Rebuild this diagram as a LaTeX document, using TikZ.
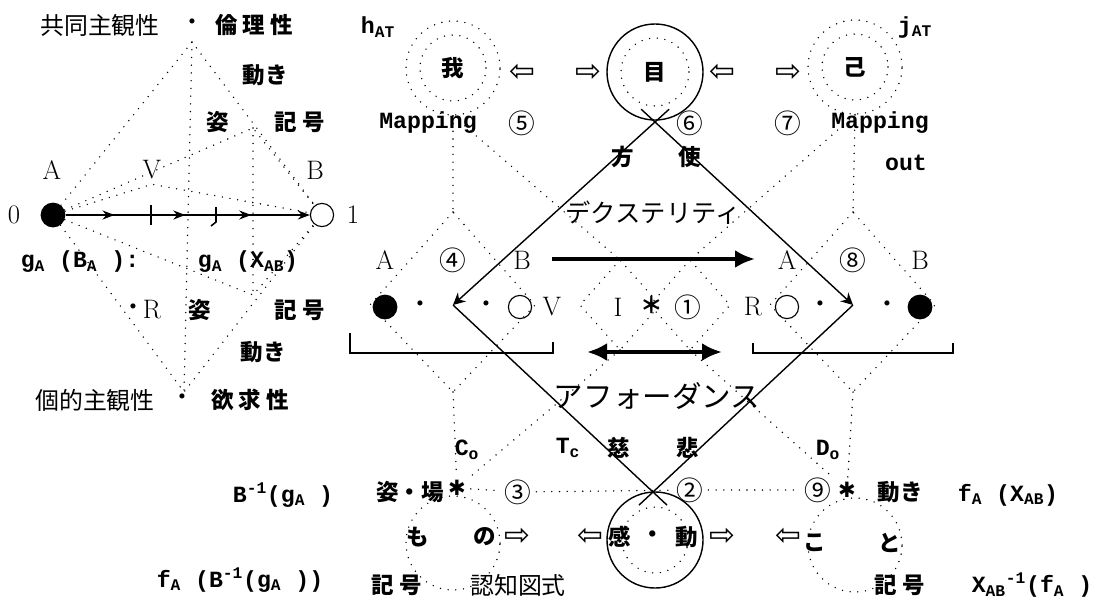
\documentclass[tikz,border=0pt]{standalone}
\usepackage{fontspec}
\setmonofont{Liberation Mono}
\newfontfamily\jpfont{Noto Sans CJK JP}
\newfontfamily\symfont{DejaVu Sans}
\usetikzlibrary{arrows.meta,calc,decorations.markings}

\begin{document}
\begin{tikzpicture}[
      x=0.025cm, y=-0.025cm,
      >=Stealth,
      jp/.style={font=\jpfont\fontsize{17}{20}\selectfont},
      jpb/.style={font=\jpfont\bfseries\fontsize{16}{20}\selectfont},
      lat/.style={font=\fontsize{19}{22}\selectfont},
      mono/.style={font=\ttfamily\bfseries\fontsize{16.5}{19}\selectfont},
      cnum/.style={font=\jpfont\fontsize{19}{22}\selectfont},
      warr/.style={font=\symfont\fontsize{22}{24}\selectfont},
      dotline/.style={line width=1.1pt, line cap=round, dash pattern=on 0pt off 5.5pt},
      edge/.style={line width=1pt},
      heavyarrow/.style={line width=3pt,-{Latex[length=5mm,width=4.5mm]}},
      ring/.style={circle, dotline, draw, minimum size=2.35cm, inner sep=0pt},
      solidring/.style={circle, draw, line width=1pt, minimum size=2.4cm, inner sep=0pt},
      blob/.style={circle, fill, inner sep=0pt, minimum size=0.62cm},
      hole/.style={circle, draw, line width=0.8pt, inner sep=0pt, minimum size=0.58cm},
      splat/.style={font=\symfont\fontsize{15}{18}\selectfont}
    ]

    \path[use as bounding box] (0,0) rectangle (1110,601);

    % Left figure: top and bottom labels
    \node[jp] (kyodo) at (100,25) {共同主観性};
    \node[jp] (kdot1) at (192,25) {・};
    \node[jpb] (rinri) at (254,25) {倫 理 性};
    \node[jpb] (ugoki1) at (265,75) {動き};
    \node[jpb] (sugata1) at (218,122) {姿};
    \node[jpb] (kigo1) at (300,122) {記 号};
    \node[lat] (la) at (52,170) {A};
    \node[lat] (lv) at (152,170) {V};
    \node[lat] (lb) at (315,170) {B};
    \node[mono] (gba) at (80,262) {g\textsubscript{A} (B\textsubscript{A} ):};
    \node[mono] (gxab) at (248,262) {g\textsubscript{A} (X\textsubscript{AB})};
    \node[jp] (rdot) at (133,310) {・};
    \node[lat] (lr) at (152,310) {R};
    \node[jpb] (sugata2) at (200,310) {姿};
    \node[jpb] (kigo2) at (300,310) {記 号};
    \node[jpb] (ugoki2) at (263,352) {動き};
    \node[jp] (koteki) at (95,400) {個的主観性};
    \node[jp] (kdot2) at (182,400) {・};
    \node[jpb] (yokkyu) at (250,400) {欲 求 性};

    % Left figure: the axis from 0 to 1
    \node[lat] (zero) at (14,215) {0};
    \node[blob] (p0) at (53,215) {};
    \node[hole] (p1) at (322,215) {};
    \node[lat] (one) at (353,215) {1};
    \draw[line width=1.3pt, -{Stealth[length=3mm]}, postaction={decorate},
      decoration={markings,
        mark=at position 0.2 with {\arrow{Stealth[length=3mm]}},
        mark=at position 0.49 with {\arrow{Stealth[length=3mm]}},
        mark=at position 0.76 with {\arrow{Stealth[length=3mm]}}}]
      (p0) -- (p1);
    \draw[line width=1.1pt] (151,205) -- (151,225);
    \draw[line width=1.1pt] (216,207) -- (216,222) -- (211,226);

    % Left figure: dotted lattice
    \coordinate (lt) at (192,42);
    \coordinate (lbot) at (184,392);
    \coordinate (mt) at (253,128);
    \coordinate (mb) at (253,295);
    \draw[dotline] (p0) -- (lt) -- (p1);
    \draw[dotline] (p0) -- (lbot) -- (p1);
    \draw[dotline] (p0) -- (mt) -- (p1);
    \draw[dotline] (p0) -- (mb) -- (p1);
    \draw[dotline] (p0) -- (lv.south) -- (p1);
    \draw[dotline] (lt) -- (lbot);
    \draw[dotline] (mt) -- (mb);

    % Top circles
    \node[mono] (hat) at (378,27) {h\textsubscript{AT}};
    \node[mono] (jat) at (915,27) {j\textsubscript{AT}};
    \node[ring, jpb] (ga) at (453,68) {我};
    \draw[dotline] (ga.center) circle (33);
    \node[warr] (w1) at (522,73) {⇦};
    \node[warr] (w2) at (588,73) {⇨};
    \node[solidring, jpb] (me) at (655,72) {目};
    \draw[dotline] (me.center) circle (34);
    \node[warr] (w3) at (722,73) {⇦};
    \node[warr] (w4) at (788,73) {⇨};
    \node[ring, jpb] (ko) at (855,67) {己};
    \draw[dotline] (ko.center) circle (33);

    \node[mono] (map1) at (428,123) {Mapping};
    \node[cnum] (n5) at (522,123) {⑤};
    \node[cnum] (n6) at (690,123) {⑥};
    \node[cnum] (n7) at (788,123) {⑦};
    \node[mono] (map2) at (880,123) {Mapping};
    \node[mono] (out) at (906,163) {out};

    % Big diamond
    \coordinate (dt) at (655,122);
    \coordinate (dl) at (453,305);
    \coordinate (db) at (653,492);
    \coordinate (dr) at (853,305);
    \draw[edge, -{Stealth[length=3mm,width=3mm]}] ($(dl)!1.07!(dt)$) -- (dl);
    \draw[edge, -{Stealth[length=3mm,width=3mm]}] ($(dr)!1.07!(dt)$) -- (dr);
    \draw[edge] (dl) -- ($(dl)!1.07!(db)$);
    \draw[edge] (dr) -- ($(dr)!1.07!(db)$);

    \node[jpb] (hou) at (623,157) {方};
    \node[jpb] (ben) at (690,157) {使};
    \node[jp, font=\jpfont\fontsize{18}{20}\selectfont] (dex) at (653,213) {デクステリティ};
    \node[jp, font=\jpfont\fontsize{21}{24}\selectfont] (aff) at (657,396) {アフォーダンス};
    \node[mono] (tc) at (568,448) {T\textsubscript{c}};
    \node[jpb] (ji) at (619,448) {慈};
    \node[jpb] (hi) at (688,448) {悲};
    \node[mono] (co) at (467,450) {C\textsubscript{o}};
    \node[mono] (do) at (828,450) {D\textsubscript{o}};

    % Sub-blocks
    \node[lat] (sa) at (385,260) {A};
    \node[cnum] (n4) at (453,260) {④};
    \node[lat] (sb) at (522,260) {B};
    \node[blob] (sl1) at (385,307) {};
    \node[jp] (sd1) at (420,307) {・};
    \node[jp] (sd2) at (486,307) {・};
    \node[hole] (sl2) at (520,307) {};
    \node[lat] (sv) at (552,307) {V};
    \node[lat] (ci) at (618,307) {I};
    \node[jpb] (cstar) at (652,305) {＊};
    \node[cnum] (n1) at (688,307) {①};
    \node[lat] (ra) at (787,260) {A};
    \node[cnum] (n8) at (853,260) {⑧};
    \node[lat] (rb) at (920,260) {B};
    \node[lat] (rr) at (753,307) {R};
    \node[hole] (rl1) at (787,307) {};
    \node[jp] (rd1) at (820,307) {・};
    \node[jp] (rd2) at (887,307) {・};
    \node[blob] (rl2) at (920,307) {};

    \coordinate (ha1) at (552,259);
    \coordinate (ha2) at (755,259);
    \draw[heavyarrow] (ha1) -- (ha2);
    \coordinate (hb1) at (587,352);
    \coordinate (hb2) at (722,352);
    \draw[heavyarrow, {Latex[length=5mm,width=4.5mm]}-{Latex[length=5mm,width=4.5mm]}] (hb1) -- (hb2);

    \draw[line width=0.9pt] (350,333) -- (350,353) -- (553,353) -- (553,342);
    \draw[line width=0.9pt] (753,343) -- (753,353) -- (953,353) -- (953,343);

    % Dotted diamonds in the middle band
    \coordinate (ldt) at (453,212);
    \coordinate (ldl) at (370,305);
    \coordinate (ldb) at (453,392);
    \coordinate (ldr) at (535,305);
    \coordinate (rdt) at (853,212);
    \coordinate (rdl) at (770,305);
    \coordinate (rdb) at (853,392);
    \coordinate (rdr) at (935,305);
    \coordinate (ct1) at (620,260);
    \coordinate (cl1) at (580,305);
    \coordinate (cb1) at (620,350);
    \coordinate (cr1) at (660,305);
    \coordinate (ct2) at (690,260);
    \coordinate (cl2) at (650,305);
    \coordinate (cb2) at (690,350);
    \coordinate (cr2) at (730,305);
    \draw[dotline] (ldt) -- (ldl) -- (ldb) -- (ldr) -- cycle;
    \draw[dotline] (rdt) -- (rdl) -- (rdb) -- (rdr) -- cycle;
    \draw[dotline] (ct1) -- (cl1) -- (cb1) -- (cr1) -- cycle;
    \draw[dotline] (ct2) -- (cl2) -- (cb2) -- (cr2) -- cycle;

    % Lower row
    \node[mono] (binv) at (283,495) {B\textsuperscript{-1}(g\textsubscript{A} )};
    \node[jpb] (sba) at (410,492) {姿・場};
    \node[splat] (st1) at (457,488) {✱};
    \node[cnum] (n3) at (518,492) {③};
    \node[cnum] (n2) at (690,490) {②};
    \node[cnum] (n9) at (818,490) {⑨};
    \node[splat] (st2) at (847,490) {✱};
    \node[jpb] (ugoki3) at (900,492) {動き};
    \node[mono] (fx) at (1008,495) {f\textsubscript{A} (X\textsubscript{AB})};

    % Bottom circles
    \node[ring] (mono) at (453,543) {};
    \node[jpb] (mo) at (418,537) {も};
    \node[jpb] (no) at (485,537) {の};
    \node[warr] (w5) at (517,537) {⇨};
    \node[warr] (w6) at (590,537) {⇦};
    \node[solidring] (kando) at (655,540) {};
    \draw[dotline] (kando.center) circle (33);
    \node[jpb] (kan) at (620,537) {感};
    \node[jpb] (kdot3) at (653,537) {・};
    \node[jpb] (dou) at (687,537) {動};
    \node[warr] (w7) at (722,537) {⇨};
    \node[warr] (w8) at (788,537) {⇦};
    \node[ring] (koto) at (855,545) {};
    \node[jpb] (ko2) at (815,543) {こ};
    \node[jpb] (to) at (890,543) {と};

    \node[mono] (fbinv) at (240,580) {f\textsubscript{A} (B\textsuperscript{-1}(g\textsubscript{A} ))};
    \node[jpb] (kigo3) at (397,585) {記 号};
    \node[jp] (ninchi) at (518,585) {認知図式};
    \node[jpb] (kigo4) at (900,585) {記 号};
    \node[mono] (xinv) at (1032,585) {X\textsubscript{AB}\textsuperscript{-1}(f\textsubscript{A} )};

    % Dotted connections
    \draw[dotline] (ga.south) -- (ldt);
    \draw[dotline] (ko.south) -- (rdt);
    \draw[dotline] (ga.south) -- (ct1);
    \draw[dotline] (ko.south) -- (ct2);
    \draw[dotline] (ldb) -- (st1);
    \draw[dotline] (rdb) -- (st2);
    \draw[dotline] (cb1) -- (st1);
    \draw[dotline] (cb2) -- (st2);
    \draw[dotline] (st1) -- (n3);
    \draw[dotline] (n3) -- (n2);
    \draw[dotline] (n2) -- (n9);

  \end{tikzpicture}
\end{document}
